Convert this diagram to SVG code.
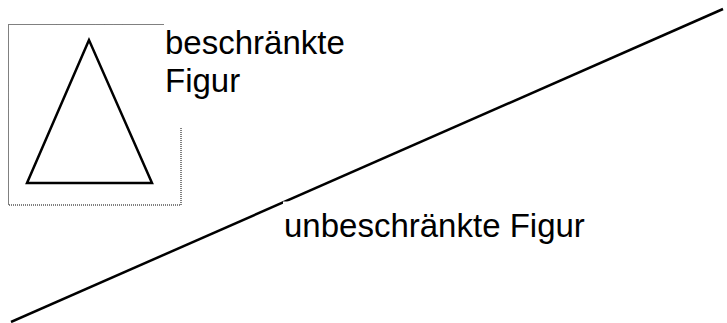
<svg xmlns="http://www.w3.org/2000/svg" width="727" height="323" viewBox="0 0 727 323">
<style>
.t{font-family:"Liberation Sans",Arial,sans-serif;font-size:33px;fill:#000}
.bg{fill:#fff;stroke:none}
</style>
<rect width="727" height="323" fill="#fff"/>
<g id="connectors">
<line x1="11" y1="322" x2="723" y2="9" stroke="#000" stroke-width="2.5"/>
</g>
<g id="bounded-box">
<rect x="8.5" y="24.5" width="172.5" height="180.5" fill="none" stroke="#000" stroke-width="1" stroke-dasharray="1,1"/>
</g>
<g id="triangle">
<polygon points="89,40 27,183 152,183" fill="none" stroke="#000" stroke-width="2.5" stroke-linejoin="miter"/>
</g>
<g id="label-bounded">
<rect class="bg" x="164" y="21" width="192" height="106"/>
<text class="t" x="165" y="54">beschränkte</text>
<text class="t" x="165" y="92">Figur</text>
</g>
<g id="label-unbounded">
<rect class="bg" x="283" y="201.5" width="305" height="44"/>
<text class="t" x="284" y="237">unbeschränkte Figur</text>
</g>
</svg>
